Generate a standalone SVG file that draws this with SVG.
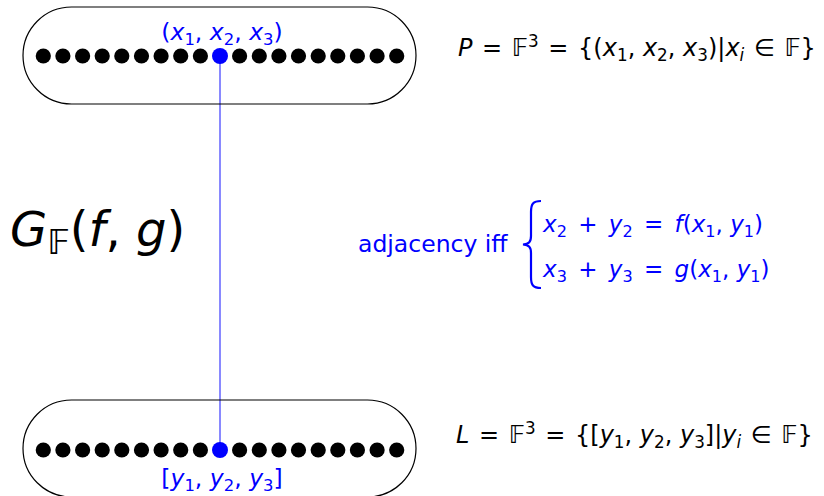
<svg xmlns="http://www.w3.org/2000/svg" width="824" height="496" viewBox="0 0 824 496">
<style>
.m{font-family:"DejaVu Sans","Liberation Sans",sans-serif;}
.i{font-style:italic;}
.blue{fill:#0000ff;}
.blk{fill:#000;}
.s{font-size:70%;}
.set{fill:none;stroke:#000;stroke-width:1.2;}
.dot{fill:#000;}
.bdot{fill:#0000ff;}
</style>
<defs>
<g id="row">
<circle class="dot" cx="43.3" cy="0" r="7.6"/><circle class="dot" cx="62.9" cy="0" r="7.6"/><circle class="dot" cx="82.6" cy="0" r="7.6"/><circle class="dot" cx="102.2" cy="0" r="7.6"/><circle class="dot" cx="121.8" cy="0" r="7.6"/><circle class="dot" cx="141.5" cy="0" r="7.6"/><circle class="dot" cx="161.1" cy="0" r="7.6"/><circle class="dot" cx="180.7" cy="0" r="7.6"/><circle class="dot" cx="200.4" cy="0" r="7.6"/><circle class="dot" cx="239.6" cy="0" r="7.6"/><circle class="dot" cx="259.3" cy="0" r="7.6"/><circle class="dot" cx="278.9" cy="0" r="7.6"/><circle class="dot" cx="298.5" cy="0" r="7.6"/><circle class="dot" cx="318.2" cy="0" r="7.6"/><circle class="dot" cx="337.8" cy="0" r="7.6"/><circle class="dot" cx="357.4" cy="0" r="7.6"/><circle class="dot" cx="377.1" cy="0" r="7.6"/><circle class="dot" cx="396.7" cy="0" r="7.6"/>
</g>
</defs>
<g id="connectors">
<line x1="220" y1="56" x2="220" y2="450" stroke="#4a4aff" stroke-width="1.3"/>
</g>
<g id="P">
<rect class="set" x="23" y="7" width="393" height="97" rx="48.5" ry="48.5"/>
<use href="#row" y="56"/>
<circle class="bdot" cx="220" cy="56" r="8"/>
<text class="m blue" x="222" y="40" font-size="23.5" text-anchor="middle">(<tspan class="i">x</tspan><tspan class="s" dy="4.5">1</tspan><tspan dy="-4.5">, </tspan><tspan class="i">x</tspan><tspan class="s" dy="4.5">2</tspan><tspan dy="-4.5">, </tspan><tspan class="i">x</tspan><tspan class="s" dy="4.5">3</tspan><tspan dy="-4.5">)</tspan></text>
</g>
<g id="L">
<rect class="set" x="23" y="400" width="393" height="97" rx="48.5" ry="48.5"/>
<use href="#row" y="450"/>
<circle class="bdot" cx="220" cy="450" r="8"/>
<text class="m blue" x="222" y="486" font-size="23.5" text-anchor="middle">[<tspan class="i">y</tspan><tspan class="s" dy="4.5">1</tspan><tspan dy="-4.5">, </tspan><tspan class="i">y</tspan><tspan class="s" dy="4.5">2</tspan><tspan dy="-4.5">, </tspan><tspan class="i">y</tspan><tspan class="s" dy="4.5">3</tspan><tspan dy="-4.5">]</tspan></text>
</g>
<g id="Pdef">
<text class="m blk" x="458" y="56" font-size="24"><tspan class="i">P</tspan><tspan dx="2"> = </tspan><tspan dx="2">𝔽</tspan><tspan class="s" dy="-9">3</tspan><tspan dy="9" dx="2"> = </tspan><tspan dx="2">{(</tspan><tspan class="i">x</tspan><tspan class="s" dy="4.5">1</tspan><tspan dy="-4.5">, </tspan><tspan class="i">x</tspan><tspan class="s" dy="4.5">2</tspan><tspan dy="-4.5">, </tspan><tspan class="i">x</tspan><tspan class="s" dy="4.5">3</tspan><tspan dy="-4.5">)|</tspan><tspan class="i">x</tspan><tspan class="s i" dy="4.5">i</tspan><tspan dy="-4.5" dx="2"> ∈ </tspan><tspan dx="2">𝔽}</tspan></text>
</g>
<g id="Ldef">
<text class="m blk" x="456" y="443" font-size="24"><tspan class="i">L</tspan><tspan dx="2"> = </tspan><tspan dx="2">𝔽</tspan><tspan class="s" dy="-9">3</tspan><tspan dy="9" dx="2"> = </tspan><tspan dx="2">{[</tspan><tspan class="i">y</tspan><tspan class="s" dy="4.5">1</tspan><tspan dy="-4.5">, </tspan><tspan class="i">y</tspan><tspan class="s" dy="4.5">2</tspan><tspan dy="-4.5">, </tspan><tspan class="i">y</tspan><tspan class="s" dy="4.5">3</tspan><tspan dy="-4.5">]|</tspan><tspan class="i">y</tspan><tspan class="s i" dy="4.5">i</tspan><tspan dy="-4.5" dx="2"> ∈ </tspan><tspan dx="2">𝔽}</tspan></text>
</g>
<g id="title">
<text class="m blk" x="10" y="246" font-size="48"><tspan class="i">G</tspan><tspan class="s" dy="8">𝔽</tspan><tspan dy="-8">(</tspan><tspan class="i">f</tspan>, <tspan class="i">g</tspan>)</text>
</g>
<g id="adj">
<text class="m blue" x="358" y="252" font-size="23.5">adjacency iff</text>
<path d="M541,201 C533,201 531,204 531,212 L531,236 C531,242 529,244 523,244.5 C529,245 531,247 531,253 L531,277 C531,285 533,288 541,288" fill="none" stroke="#0000ff" stroke-width="2.2"/>
<text class="m blue" x="543" y="232" font-size="23"><tspan class="i">x</tspan><tspan class="s" dy="4.5">2</tspan><tspan dy="-4.5" dx="4"> + </tspan><tspan class="i" dx="4">y</tspan><tspan class="s" dy="4.5">2</tspan><tspan dy="-4.5" dx="4"> = </tspan><tspan class="i" dx="4">f</tspan>(<tspan class="i">x</tspan><tspan class="s" dy="4.5">1</tspan><tspan dy="-4.5">, </tspan><tspan class="i">y</tspan><tspan class="s" dy="4.5">1</tspan><tspan dy="-4.5">)</tspan></text>
<text class="m blue" x="543" y="277" font-size="23"><tspan class="i">x</tspan><tspan class="s" dy="4.5">3</tspan><tspan dy="-4.5" dx="4"> + </tspan><tspan class="i" dx="4">y</tspan><tspan class="s" dy="4.5">3</tspan><tspan dy="-4.5" dx="4"> = </tspan><tspan class="i" dx="4">g</tspan>(<tspan class="i">x</tspan><tspan class="s" dy="4.5">1</tspan><tspan dy="-4.5">, </tspan><tspan class="i">y</tspan><tspan class="s" dy="4.5">1</tspan><tspan dy="-4.5">)</tspan></text>
</g>
</svg>
